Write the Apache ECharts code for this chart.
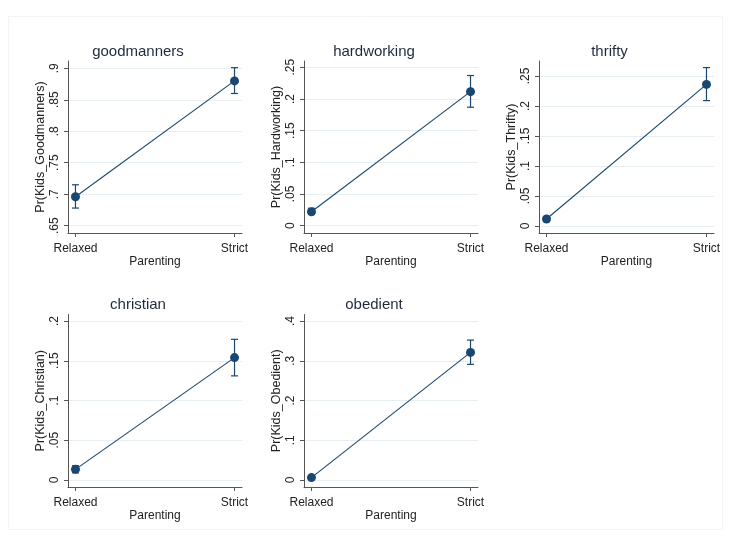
<!DOCTYPE html>
<html>
<head>
<meta charset="utf-8">
<script src="https://cdn.jsdelivr.net/npm/echarts@6/dist/echarts.min.js"></script>
<style>
html,body{margin:0;padding:0;background:#fff;}
#main{width:731px;height:538px;}
</style>
</head>
<body>
<div id="main"></div>
<script>
// ---- data ----
var categories = ['Relaxed', 'Strict'];
var panelNames = ['goodmanners', 'hardworking', 'thrifty', 'christian', 'obedient'];
var yTitles = ['Pr(Kids_Goodmanners)', 'Pr(Kids_Hardworking)', 'Pr(Kids_Thrifty)', 'Pr(Kids_Christian)', 'Pr(Kids_Obedient)'];

var goodmannersMean = [0.696, 0.880];
var goodmannersLo   = [0.678, 0.860];
var goodmannersHi   = [0.715, 0.901];

var hardworkingMean = [0.022, 0.2115];
var hardworkingLo   = [0.018, 0.187];
var hardworkingHi   = [0.0275, 0.237];

var thriftyMean = [0.0117, 0.236];
var thriftyLo   = [0.008, 0.209];
var thriftyHi   = [0.015, 0.264];

var christianMean = [0.0134, 0.154];
var christianLo   = [0.009, 0.131];
var christianHi   = [0.018, 0.177];

var obedientMean = [0.006, 0.321];
var obedientLo   = [0.004, 0.291];
var obedientHi   = [0.008, 0.352];

var goodmannersTicks = [0.65, 0.7, 0.75, 0.8, 0.85, 0.9];
var hardworkingTicks = [0, 0.05, 0.1, 0.15, 0.2, 0.25];
var thriftyTicks     = [0, 0.05, 0.1, 0.15, 0.2, 0.25];
var christianTicks   = [0, 0.05, 0.1, 0.15, 0.2];
var obedientTicks    = [0, 0.1, 0.2, 0.3, 0.4];

// ---- layout ----
var means = [goodmannersMean, hardworkingMean, thriftyMean, christianMean, obedientMean];
var los = [goodmannersLo, hardworkingLo, thriftyLo, christianLo, obedientLo];
var his = [goodmannersHi, hardworkingHi, thriftyHi, christianHi, obedientHi];
var ticks = [goodmannersTicks, hardworkingTicks, thriftyTicks, christianTicks, obedientTicks];

var grids = [
  {left: 68,  top: 61,    width: 174, height: 172},
  {left: 304, top: 61,    width: 174, height: 172},
  {left: 539, top: 61,    width: 175, height: 172},
  {left: 68,  top: 314.5, width: 174, height: 172.5},
  {left: 304, top: 314.5, width: 174, height: 172.5}
];
var yRanges = [
  [0.6384, 0.9116],
  [-0.0115, 0.2599],
  [-0.0117, 0.275],
  [-0.0088, 0.2082],
  [-0.0176, 0.4164]
];

var NAVY = '#1a476f';
var TXT = '#222';
var FONT = '"Liberation Sans", Arial, sans-serif';

function fmtTick(v) {
  var s = String(+v.toFixed(4));
  if (s === '0') return '0';
  return s.replace(/^0\./, '.').replace(/^-0\./, '-.');
}

var option = {
  backgroundColor: '#fff',
  animation: false,
  title: [],
  grid: [],
  xAxis: [],
  yAxis: [],
  series: [],
  graphic: [{
    type: 'rect',
    shape: {x: 8.5, y: 16.5, width: 714, height: 513},
    style: {fill: 'none', stroke: '#f4f4f4', lineWidth: 1},
    silent: true
  }]
};

grids.forEach(function (g, i) {
  option.grid.push({left: g.left, top: g.top, width: g.width, height: g.height, containLabel: false});
  option.title.push({
    text: panelNames[i],
    left: g.left + g.width / 2 - 17,
    top: g.top - 17,
    textAlign: 'center',
    padding: 0,
    textStyle: {fontFamily: FONT, fontSize: 15, fontWeight: 'normal', color: '#1e2b3a'}
  });
  option.xAxis.push({
    type: 'value',
    gridIndex: i,
    min: -0.047,
    max: 1.047,
    name: 'Parenting',
    nameLocation: 'middle',
    nameGap: 22,
    nameTextStyle: {fontFamily: FONT, fontSize: 12, color: TXT, verticalAlign: 'top'},
    axisLine: {show: true, onZero: false, lineStyle: {color: '#555', width: 1}},
    axisTick: {show: true, length: 4, customValues: [0, 1], lineStyle: {color: '#555'}},
    axisLabel: {
      customValues: [0, 1],
      margin: 10,
      fontFamily: FONT, fontSize: 12, color: TXT,
      formatter: function (v) { return categories[Math.round(v)]; }
    },
    splitLine: {show: false}
  });
  option.yAxis.push({
    type: 'value',
    gridIndex: i,
    min: yRanges[i][0],
    max: yRanges[i][1],
    name: yTitles[i],
    nameLocation: 'middle',
    nameGap: 21,
    nameTextStyle: {fontFamily: FONT, fontSize: 12.5, color: TXT},
    axisLine: {show: true, onZero: false, lineStyle: {color: '#555', width: 1}},
    axisTick: {show: true, length: 4, customValues: ticks[i], lineStyle: {color: '#555'}},
    axisLabel: {
      customValues: ticks[i],
      rotate: 90,
      margin: 7,
      fontFamily: FONT, fontSize: 12, color: TXT,
      formatter: function (v) { return fmtTick(v); }
    },
    splitLine: {show: true, lineStyle: {color: '#e7eff2', width: 1}}
  });

  var lineData = means[i].map(function (m, k) { return [k, m]; });
  var errData = means[i].map(function (m, k) { return [k, los[i][k], his[i][k]]; });

  option.series.push({
    type: 'custom',
    xAxisIndex: i,
    yAxisIndex: i,
    data: errData,
    encode: {x: 0, y: [1, 2]},
    z: 2,
    renderItem: function (params, api) {
      var x = api.value(0);
      var p1 = api.coord([x, api.value(1)]);
      var p2 = api.coord([x, api.value(2)]);
      var cw = 3.5;
      var st = {stroke: NAVY, lineWidth: 1.2, fill: null};
      return {
        type: 'group',
        children: [
          {type: 'line', shape: {x1: p1[0], y1: p1[1], x2: p2[0], y2: p2[1]}, style: st},
          {type: 'line', shape: {x1: p1[0] - cw, y1: p1[1], x2: p1[0] + cw, y2: p1[1]}, style: st},
          {type: 'line', shape: {x1: p2[0] - cw, y1: p2[1], x2: p2[0] + cw, y2: p2[1]}, style: st}
        ]
      };
    }
  });
  option.series.push({
    type: 'line',
    xAxisIndex: i,
    yAxisIndex: i,
    data: lineData,
    z: 3,
    symbol: 'circle',
    symbolSize: 9,
    showSymbol: true,
    lineStyle: {color: NAVY, width: 1.1},
    itemStyle: {color: NAVY}
  });
});

var chart = echarts.init(document.getElementById('main'), null, {renderer: 'canvas'});
chart.setOption(option);
</script>
</body>
</html>
